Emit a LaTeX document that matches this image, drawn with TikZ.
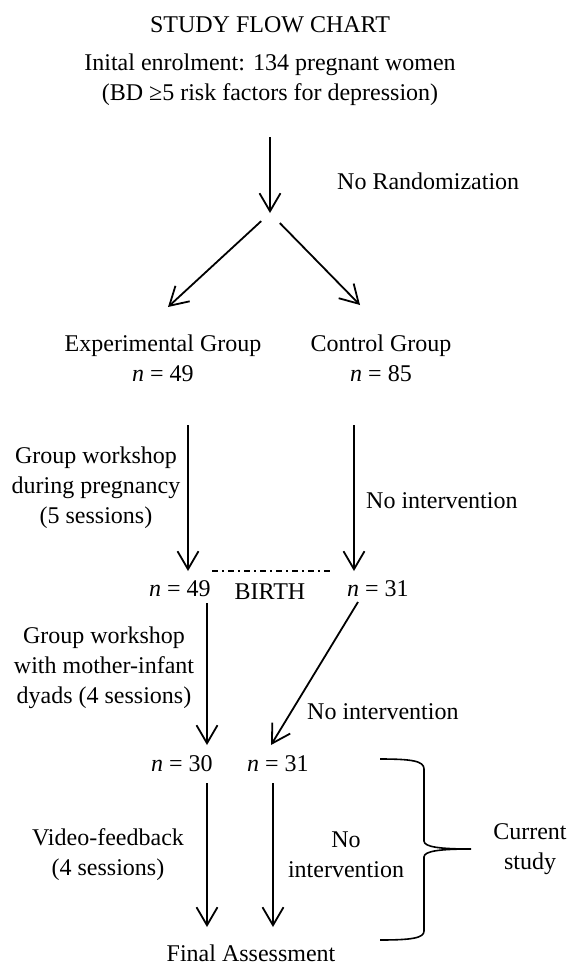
\documentclass[tikz,border=0pt]{standalone}
\usepackage{fontspec}
\setmainfont{Liberation Serif}
\usetikzlibrary{arrows.meta}

\begin{document}
\begin{tikzpicture}[
	x=1pt, y=-1pt,
	every node/.style={font=\fontsize{24}{30}\selectfont, align=center, inner sep=0pt},
	one/.style={text height=17pt, text depth=5pt},
	arr/.style={line width=1.8pt, -{Straight Barb[length=18pt,width=21pt]}},
	birthline/.style={line width=1.5pt, dash pattern=on 6pt off 4pt on 2pt off 4pt}]
\useasboundingbox (0,0) rectangle (568,970);

\node[one] (title) at (270,26) {STUDY FLOW CHART};
\node (enrol) at (270,80) {Inital enrolment: 134 pregnant women\\(BD ≥5 risk factors for depression)};
\node[one,anchor=west] (norand) at (337,183) {No Randomization};
\node (expgrp) at (163,358) {Experimental Group\\\textit{n} = 49};
\node (ctrlgrp) at (381,358) {Control Group\\\textit{n} = 85};
\node (wsa) at (96,488) {Group workshop\\during pregnancy\\(5 sessions)};
\node[one,anchor=west] (nointa) at (366,502) {No intervention};
\node[one] (expbirth) at (180,590) {\textit{n} = 49};
\node[one] (birth) at (270,593) {BIRTH};
\node[one] (ctrlbirth) at (378,590) {\textit{n} = 31};
\node (wsb) at (104,668) {Group workshop\\with mother-infant\\dyads (4 sessions)};
\node[one,anchor=west] (nointb) at (307,713) {No intervention};
\node[one] (exppost) at (182,765) {\textit{n} = 30};
\node[one] (ctrlpost) at (278,765) {\textit{n} = 31};
\node (video) at (108,855) {Video-feedback\\(4 sessions)};
\node (nointc) at (346,855) {No\\intervention};
\node (current) at (530,849) {Current\\study};
\node[one] (final) at (251,955) {Final Assessment};

\coordinate (fork) at (270,213);
\coordinate (expin) at (168,307);
\coordinate (ctrlin) at (360,305);
\coordinate (expout) at (188,425);
\coordinate (expend) at (188,571);
\coordinate (ctrlout) at (354,425);
\coordinate (ctrlend) at (354,571);
\coordinate (birthl) at (212,571);
\coordinate (birthr) at (330,571);
\coordinate (wsbout) at (207,603);
\coordinate (wsbend) at (207,745);
\coordinate (ctrlmid) at (358,602);
\coordinate (ctrlmidend) at (271,745);
\coordinate (videoout) at (207,783);
\coordinate (videoend) at (207,927);
\coordinate (nointout) at (273,783);
\coordinate (nointend) at (273,927);

\draw[arr, shorten <=31pt] (enrol.south) -- (fork);
\draw[arr, shorten <=12pt] (fork) -- (expin);
\draw[arr, shorten <=14pt] (fork) -- (ctrlin);
\draw[arr] (expout) -- (expend);
\draw[arr] (ctrlout) -- (ctrlend);
\draw[birthline] (birthl) -- (birthr);
\draw[arr] (wsbout) -- (wsbend);
\draw[arr] (ctrlmid) -- (ctrlmidend);
\draw[arr] (videoout) -- (videoend);
\draw[arr] (nointout) -- (nointend);

\draw[line width=1.6pt] (380,759) .. controls (412,759) and (424,761) .. (424,769)
	-- (424,841) .. controls (424,847) and (440,849) .. (471,849)
	.. controls (440,849) and (424,851) .. (424,857)
	-- (424,931) .. controls (424,938) and (412,940) .. (380,940);
\end{tikzpicture}
\end{document}
